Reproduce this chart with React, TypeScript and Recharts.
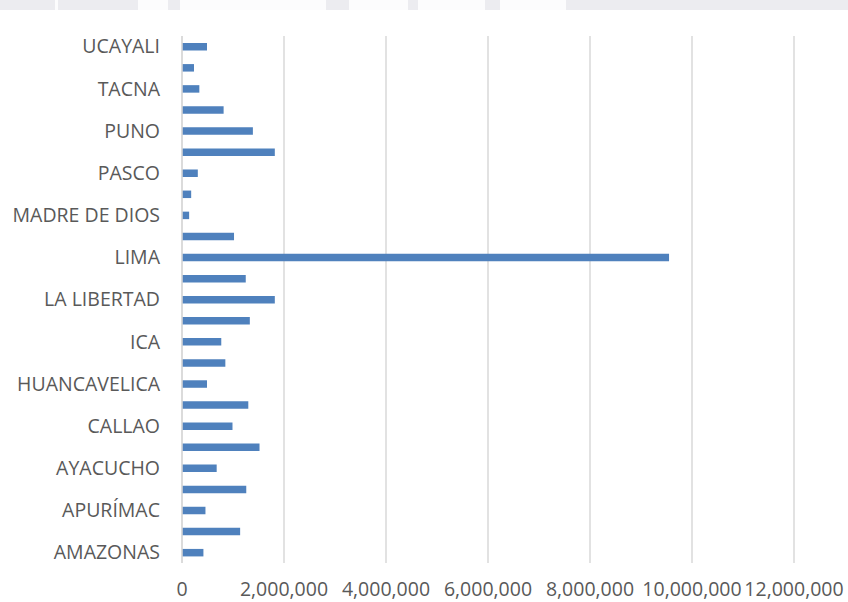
import { BarChart, Bar, XAxis, YAxis, CartesianGrid } from "recharts";

const regions = [
  "AMAZONAS", "ÁNCASH", "APURÍMAC", "AREQUIPA", "AYACUCHO", "CAJAMARCA", "CALLAO",
  "CUSCO", "HUANCAVELICA", "HUÁNUCO", "ICA", "JUNÍN", "LA LIBERTAD", "LAMBAYEQUE",
  "LIMA", "LORETO", "MADRE DE DIOS", "MOQUEGUA", "PASCO", "PIURA", "PUNO",
  "SAN MARTÍN", "TACNA", "TUMBES", "UCAYALI",
];

const population = [
  420000, 1140000, 460000, 1260000, 680000, 1520000, 990000,
  1300000, 490000, 850000, 770000, 1330000, 1820000, 1250000,
  9550000, 1020000, 140000, 180000, 310000, 1820000, 1390000,
  816000, 340000, 235000, 490000,
];

const xTicks = [0, 2000000, 4000000, 6000000, 8000000, 10000000, 12000000];

// franja gris del escaneo (marca de agua) en la parte superior
const stripGaps: [number, number][] = [
  [55, 58], [138, 168], [180, 326], [349, 408], [418, 485], [500, 566],
];

const FONT = "'Open Sans', sans-serif";
const TEXT = "#595959";
const GRID = "#d9d9d9";

const rows = regions.map((r, i) => ({ region: r, value: population[i] }));

const fmt = (v: number) => v.toLocaleString("en-US");

export default function App() {
  return (
    <div style={{ position: "absolute", left: 0, top: 0, width: 848, height: 602, background: "#fff" }}>
      <div style={{ position: "absolute", left: 0, top: 0, width: 848, height: 10, background: "#ececf0" }}>
        {stripGaps.map(([a, b]) => (
          <div key={a} style={{ position: "absolute", left: a, top: 0, width: b - a, height: 10, background: "#fcfcfd" }} />
        ))}
      </div>
      <BarChart
        width={848}
        height={602}
        data={rows}
        layout="vertical"
        margin={{ top: 36, right: 54, left: 0, bottom: 0 }}
        barCategoryGap="65%"
        style={{ fontFamily: FONT }}
      >
        <CartesianGrid horizontal={false} stroke={GRID} strokeWidth={1.5} />
        <XAxis
          type="number"
          domain={[0, 12000000]}
          ticks={xTicks}
          interval={0}
          tickFormatter={fmt}
          axisLine={false}
          tickLine={false}
          tickSize={0}
          tickMargin={19}
          height={39}
          tick={{ fontSize: 19.5, fill: TEXT, fontFamily: FONT }}
        />
        <YAxis
          type="category"
          dataKey="region"
          reversed
          interval={1}
          width={182}
          axisLine={{ stroke: GRID, strokeWidth: 1.5 }}
          tickLine={false}
          tickSize={0}
          tickMargin={22}
          tick={{ fontSize: 19.5, fill: TEXT, fontFamily: FONT }}
        />
        <Bar dataKey="value" fill="#4F81BD" barSize={7.5} isAnimationActive={false} />
      </BarChart>
    </div>
  );
}
